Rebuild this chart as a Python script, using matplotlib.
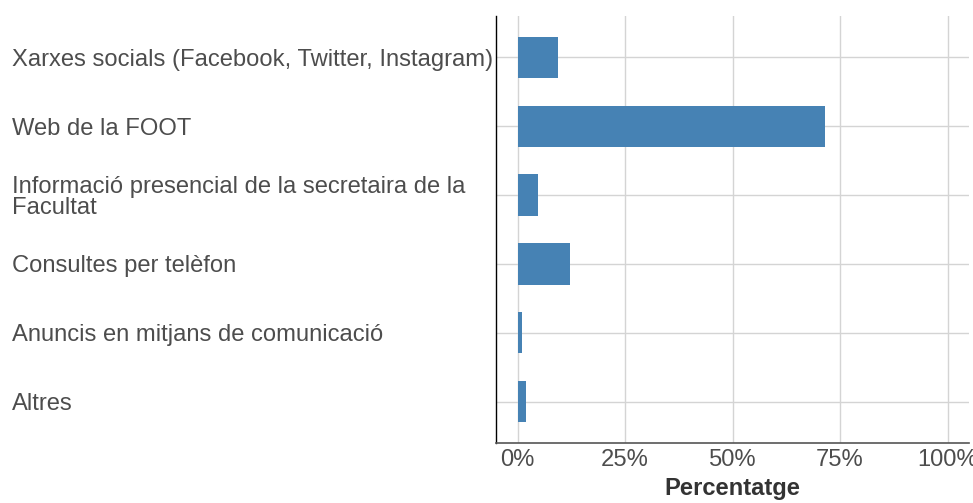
import matplotlib.pyplot as plt
from matplotlib.ticker import FuncFormatter

# dades llegides del gràfic (percentatge)
categories = [
    'Xarxes socials (Facebook, Twitter, Instagram)',
    'Web de la FOOT',
    'Informació presencial de la secretaira de la\nFacultat',
    'Consultes per telèfon',
    'Anuncis en mitjans de comunicació',
    'Altres',
]
percentatges = [9.3, 71.6, 4.7, 12.1, 0.9, 1.9]
xticks = [0, 25, 50, 75, 100]

plt.rcParams['font.family'] = ['Liberation Sans', 'DejaVu Sans']

fig = plt.figure(figsize=(9.73, 5.03), dpi=100)
ax = fig.add_axes([0.510, 0.1193, 0.4859, 0.8489])

ypos = list(range(len(categories)))
ax.barh(ypos, percentatges, height=0.6, color='#4682B4', zorder=3)

ax.set_xlim(-5, 105)
ax.set_ylim(len(categories) - 0.4, -0.6)
ax.set_xticks(xticks)
ax.xaxis.set_major_formatter(FuncFormatter(lambda v, p: f'{v:.0f}%'))
ax.set_yticks(ypos)
ax.set_yticklabels(categories, ha='left', multialignment='left', linespacing=0.95)

ax.grid(True, color='#d4d4d4', linewidth=1.0, zorder=0)
ax.tick_params(axis='y', length=0, pad=348.7, labelsize=17.1, labelcolor='#4d4d4d')
ax.tick_params(axis='x', length=0, pad=4, labelsize=17.1, labelcolor='#4d4d4d')

for s in ['top', 'right']:
    ax.spines[s].set_visible(False)
ax.spines['left'].set_color('black')
ax.spines['left'].set_linewidth(1.0)
ax.spines['bottom'].set_color('#555555')
ax.spines['bottom'].set_linewidth(1.2)

ax.set_xlabel('Percentatge', fontsize=17.1, fontweight='bold', color='#333333', labelpad=5)

fig.savefig('out.png', dpi=100)
